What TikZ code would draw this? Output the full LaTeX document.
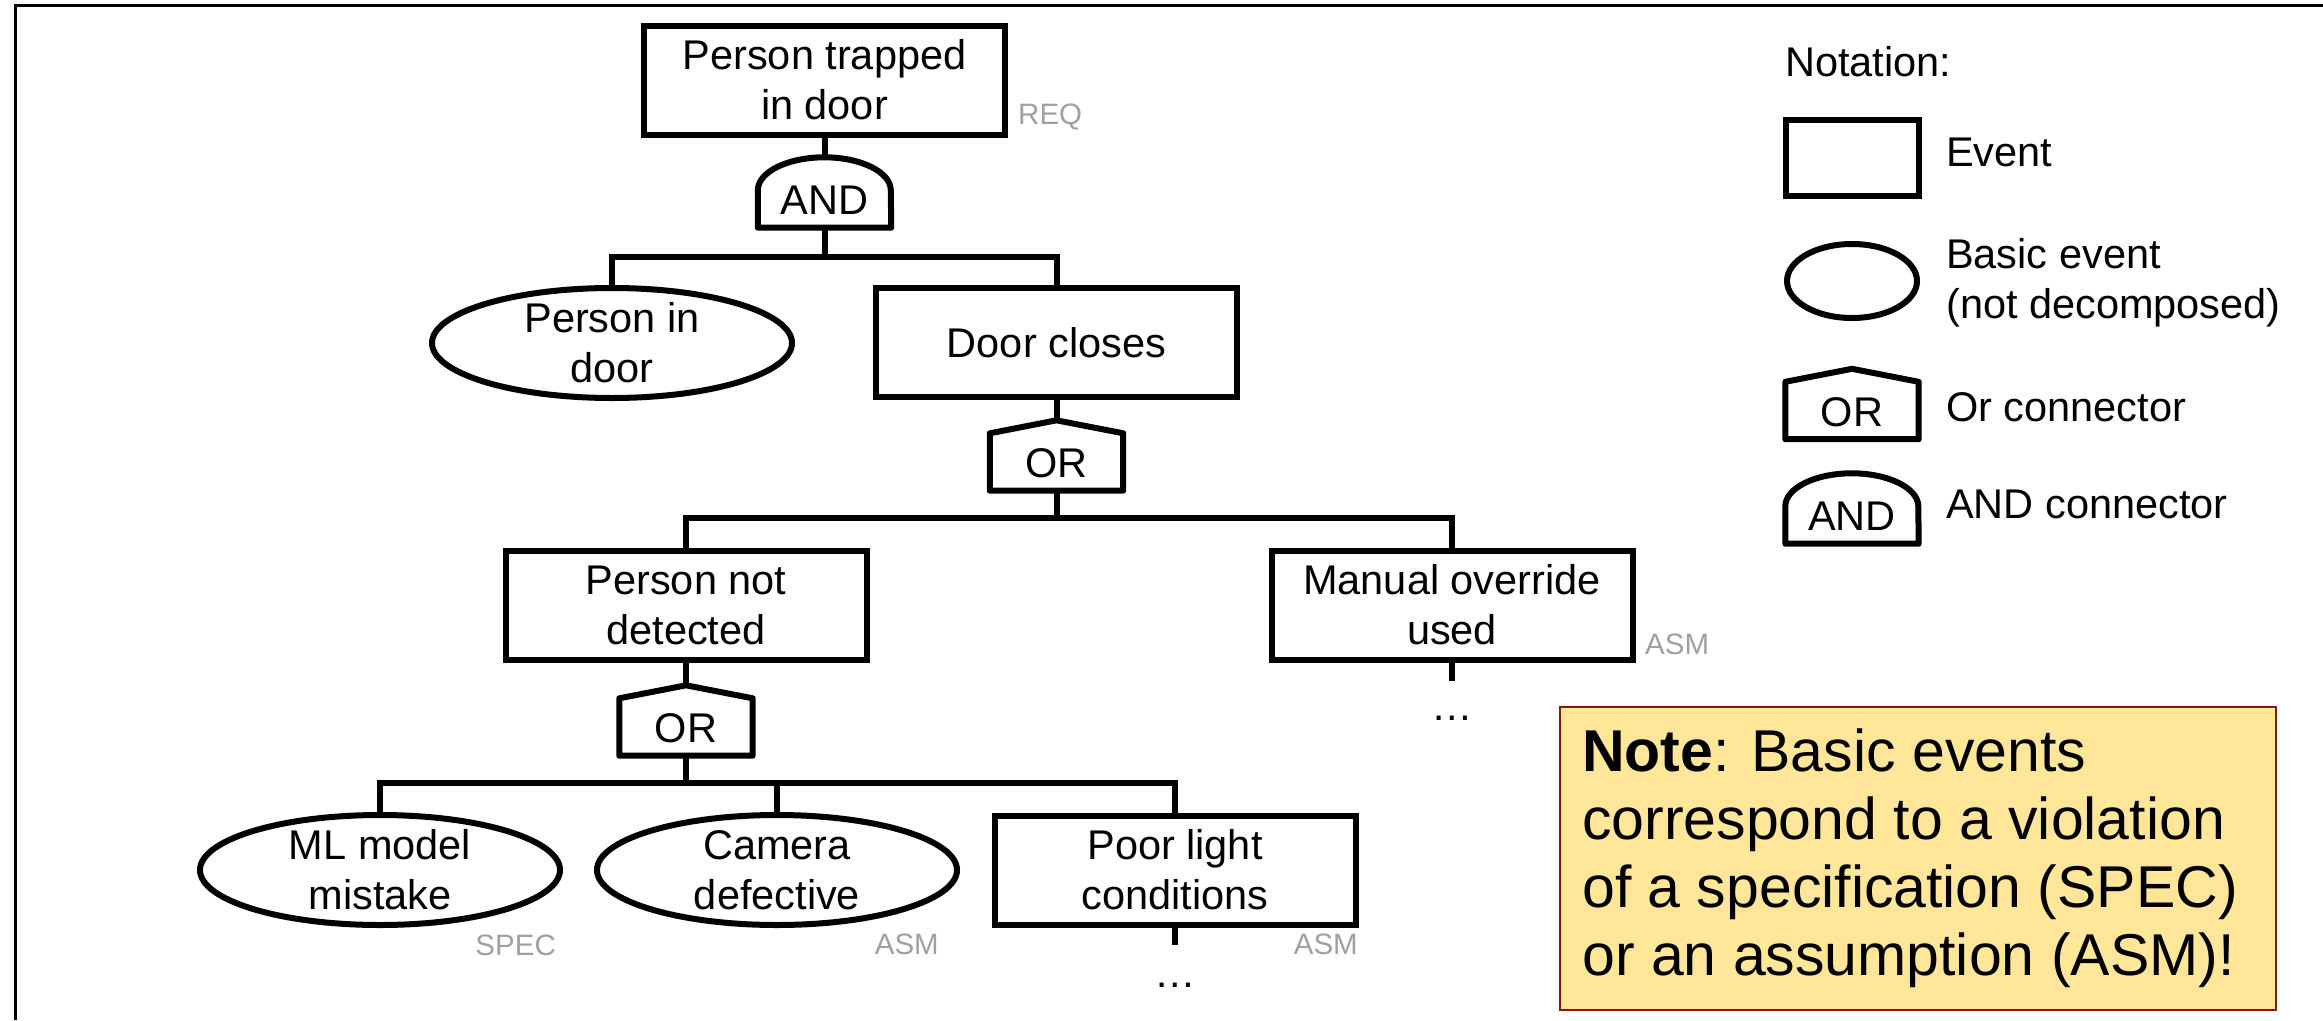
\documentclass[tikz,border=0pt]{standalone}
\usepackage{fontspec}
\setmainfont{Liberation Sans}
\usetikzlibrary{shapes.geometric}
\definecolor{tagGray}{RGB}{160,160,160}
\definecolor{noteFill}{RGB}{255,230,153}
\definecolor{noteEdge}{RGB}{140,20,20}
\begin{document}
\begin{tikzpicture}[x=1pt,y=-1pt,
  every node/.style={inner sep=0pt},
  mainfont/.style={font=\fontsize{41.5}{50}\selectfont},
  event/.style={draw, line width=6pt, rectangle, minimum width=361pt, minimum height=109pt, align=center, mainfont},
  basic/.style={draw, line width=6pt, ellipse, minimum width=360pt, minimum height=110pt, inner ysep=-15pt, align=center, mainfont},
  gate/.style={minimum width=133pt, minimum height=70pt, text height=44pt, text depth=0pt, mainfont},
  gateline/.style={line width=6pt, line join=round},
  link/.style={line width=6pt},
  tag/.style={text=tagGray, font=\fontsize{29.5}{35}\selectfont, anchor=base west},
  legendtext/.style={mainfont, anchor=base west}
]
\useasboundingbox (0,0) rectangle (2323,1020);

% frame
\draw[line width=3pt] (15,1020) -- (15,5) -- (2323,5);

% ---------- fault tree ----------
\node[event] (top) at (824.5,80) {Person trapped\\in door};
\node[tag] (tagreq) at (1018,124) {REQ};

\node[gate] (and1) at (824.5,192.5) {AND};
\draw[gateline] (and1.south west) -- ([yshift=-33pt]and1.north west)
  arc[start angle=180, end angle=0, x radius=66.5pt, y radius=33pt] -- (and1.south east) -- cycle;

\node[basic] (pin) at (612,343) {Person in\\door};
\node[event] (door) at (1056.5,342.5) {Door closes};

\node[gate] (or1) at (1056.5,455.5) {OR};
\draw[gateline] (or1.south west) -- ([yshift=-13pt]or1.north west) -- (or1.north)
  -- ([yshift=-13pt]or1.north east) -- (or1.south east) -- cycle;

\node[event] (pnd) at (686,605.5) {Person not\\detected};
\node[event] (mo) at (1452,605) {Manual override\\used};
\node[tag] (tagmo) at (1645,654) {ASM};
\coordinate (s1) at (1452,681);
\node[mainfont, anchor=base] (more1) at (1452,720) {…};

\node[gate] (or2) at (686,720.5) {OR};
\draw[gateline] (or2.south west) -- ([yshift=-13pt]or2.north west) -- (or2.north)
  -- ([yshift=-13pt]or2.north east) -- (or2.south east) -- cycle;

\node[basic] (ml) at (380,870) {ML model\\mistake};
\node[basic] (cam) at (777,870) {Camera\\defective};
\node[event] (pl) at (1175,870) {Poor light\\conditions};
\node[tag, anchor=base east] (tagml) at (556,955) {SPEC};
\node[tag, anchor=base east] (tagcam) at (939,954) {ASM};
\node[tag, anchor=base east] (tagpl) at (1358,954) {ASM};
\coordinate (s2) at (1175,945);
\node[mainfont, anchor=base] (more2) at (1175,987) {…};

% connectors
\coordinate (j1) at (824.5,257);
\coordinate (j2) at (1056.5,518);
\coordinate (j3) at (686,783);
\draw[link] (top.south) -- (and1.north);
\draw[link] (and1.south) -- (j1);
\draw[link] (pin.north) |- (j1) -| (door.north);
\draw[link] (door.south) -- (or1.north);
\draw[link] (or1.south) -- (j2);
\draw[link] (pnd.north) |- (j2) -| (mo.north);
\draw[link] (mo.south) -- (s1);
\draw[link] (pnd.south) -- (or2.north);
\draw[link] (or2.south) -- (j3);
\draw[link] (ml.north) |- (j3) -| (pl.north);
\draw[link] (cam.north) -- (cam.north |- j3);
\draw[link] (pl.south) -- (s2);

% ---------- notation ----------
\node[legendtext] (nottitle) at (1785,76) {Notation:};

\node[draw, line width=6pt, minimum width=133pt, minimum height=76pt] (lgevent) at (1852,158) {};
\node[legendtext] (lgeventtxt) at (1946,166) {Event};

\node[draw, line width=6pt, ellipse, minimum width=130pt, minimum height=74pt] (lgbasic) at (1852,281) {};
\node[mainfont, anchor=west, align=left] (lgbasictxt) at (1946,283) {Basic event\\(not decomposed)};

\node[gate] (lgor) at (1852,404) {OR};
\draw[gateline] (lgor.south west) -- ([yshift=-13pt]lgor.north west) -- (lgor.north)
  -- ([yshift=-13pt]lgor.north east) -- (lgor.south east) -- cycle;
\node[legendtext] (lgortxt) at (1946,421) {Or connector};

\node[gate] (lgand) at (1852,508.5) {AND};
\draw[gateline] (lgand.south west) -- ([yshift=-33pt]lgand.north west)
  arc[start angle=180, end angle=0, x radius=66.5pt, y radius=33pt] -- (lgand.south east) -- cycle;
\node[legendtext] (lgandtxt) at (1946,518) {AND connector};

% ---------- note ----------
\node[draw=noteEdge, fill=noteFill, line width=2.5pt, minimum width=716pt, minimum height=303pt] (notebox) at (1918,858.5) {};
\node[anchor=west, align=left, font=\fontsize{59}{68}\selectfont] (notetext) at (1582,858.5)
  {\textbf{Note}: Basic events\\correspond to a violation\\of a specification (SPEC)\\or an assumption (ASM)!};
\end{tikzpicture}
\end{document}
